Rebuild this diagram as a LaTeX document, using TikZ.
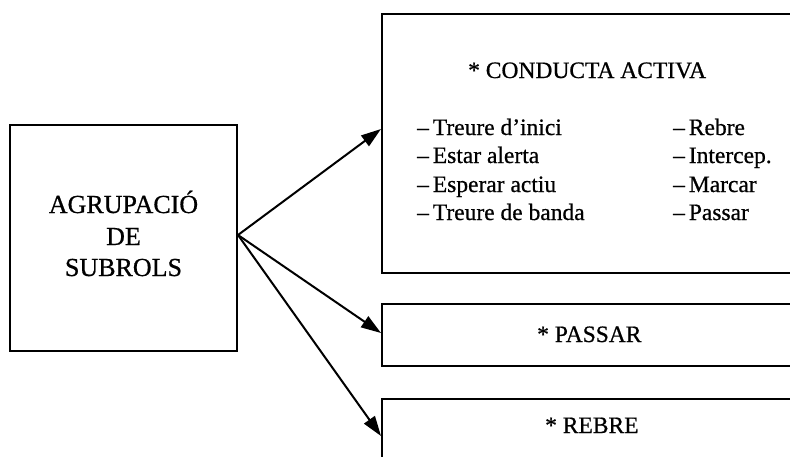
\documentclass[tikz,border=0pt]{standalone}
\usepackage{fontspec}
\setmainfont{Liberation Serif}[FakeBold=0.7]
\usetikzlibrary{arrows.meta}
\begin{document}
\begin{tikzpicture}[x=1pt,y=-1pt,
  box/.style={draw, line width=2pt, inner sep=0pt},
  big/.style={font=\fontsize{26}{31}\selectfont, inner sep=0pt, anchor=base},
  txt/.style={font=\fontsize{23.5}{28}\selectfont, inner sep=0pt, anchor=base west},
  arr/.style={line width=2pt, -{Triangle[length=20pt,width=13pt]}}]
\useasboundingbox (0,0) rectangle (790,456);
\clip (0,0) rectangle (790,456);
% left box
\node[box, minimum width=227pt, minimum height=226pt] (L) at (123.5,238) {};
\node[big] (l1) at (123.5,213) {AGRUPACIÓ};
\node[big] (l2) at (123.5,245) {DE};
\node[big] (l3) at (123.5,276) {SUBROLS};
% right boxes
\node[box, minimum width=418pt, minimum height=259pt] (A) at (591,143.5) {};
\node[box, minimum width=418pt, minimum height=62pt] (P) at (591,335) {};
\node[box, minimum width=418pt, minimum height=90pt] (R) at (591,444) {};
% texts
\node[txt] (h) at (468,78) {* CONDUCTA ACTIVA};
\node[txt] (a1) at (417,135) {–\,Treure d’inici};
\node[txt] (a2) at (417,163) {–\,Estar alerta};
\node[txt] (a3) at (417,192) {–\,Esperar actiu};
\node[txt] (a4) at (417,220) {–\,Treure de banda};
\node[txt] (b1) at (673,135) {–\,Rebre};
\node[txt] (b2) at (673,163) {–\,Intercep.};
\node[txt] (b3) at (673,192) {–\,Marcar};
\node[txt] (b4) at (673,220) {–\,Passar};
\node[txt] (p) at (537,342) {* PASSAR};
\node[txt] (r) at (545,433) {* REBRE};
% arrows
\coordinate (o) at ([yshift=3pt]L.east);
\draw[arr] (o) -- ([yshift=-116pt]A.north west);
\draw[arr] (o) -- ([yshift=2pt]P.west);
\draw[arr] (o) -- ([yshift=-38pt]R.north west);
\end{tikzpicture}
\end{document}
